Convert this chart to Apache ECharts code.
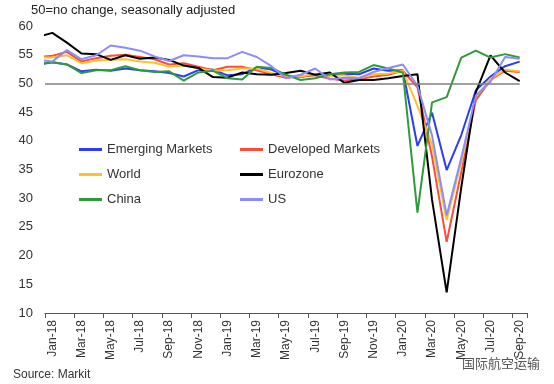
<!DOCTYPE html>
<html>
<head>
<meta charset="utf-8">
<script src="https://cdn.jsdelivr.net/npm/echarts@6/dist/echarts.min.js"></script>
<style>
html,body{margin:0;padding:0;background:#fff;}
#c{width:554px;height:384px;}
</style>
</head>
<body>
<div id="c"></div>
<script>
// Months plotted (Dec-17 is only partly visible at the left edge)
const months = ['Dec-17','Jan-18','Feb-18','Mar-18','Apr-18','May-18','Jun-18','Jul-18','Aug-18','Sep-18','Oct-18','Nov-18','Dec-18',
  'Jan-19','Feb-19','Mar-19','Apr-19','May-19','Jun-19','Jul-19','Aug-19','Sep-19','Oct-19','Nov-19','Dec-19',
  'Jan-20','Feb-20','Mar-20','Apr-20','May-20','Jun-20','Jul-20','Aug-20','Sep-20'];
// Axis categories (tick labels)
const axisCategories = months.slice(1);

const emergingMarkets = [53.2,53.7,53.3,52.1,52.4,52.2,52.6,52.3,52.1,51.8,51.2,52.3,52.4,51.4,51.6,52.8,52.4,51.3,51.1,51.6,51.5,51.7,51.6,52.6,52.2,52.3,39.1,44.9,34.9,41.0,48.8,51.2,53.0,53.8];
const developedMarkets = [54.6,54.8,55.5,53.8,54.4,54.8,55.0,54.6,54.2,53.3,53.5,52.9,52.3,52.9,52.9,52.3,51.6,51.0,51.2,51.4,50.8,50.5,50.7,51.2,51.5,52.2,49.3,37.2,22.4,34.5,47.1,50.6,52.2,52.0];
const world = [54.5,54.5,54.9,53.5,54.0,54.1,54.2,53.8,53.6,52.9,53.1,52.6,52.2,52.3,52.6,52.6,51.8,51.2,51.2,51.7,51.3,51.4,51.0,51.6,51.7,52.2,46.1,39.4,26.2,36.3,47.7,50.8,52.4,52.1];
const eurozone = [58.1,58.8,57.1,55.2,55.1,54.1,54.9,54.3,54.5,54.1,53.1,52.7,51.1,51.0,51.9,51.6,51.5,51.8,52.2,51.5,51.9,50.1,50.6,50.6,50.9,51.3,51.6,29.7,13.6,31.9,48.5,54.9,51.9,50.4];
const china = [53.4,53.7,53.3,51.8,52.3,52.3,53.0,52.3,52.0,52.1,50.5,51.9,52.2,50.9,50.7,52.9,52.7,51.5,50.6,50.9,51.6,51.9,52.0,53.2,52.6,51.9,27.5,46.7,47.6,54.5,55.7,54.5,55.1,54.5];
const us = [54.1,53.8,55.8,54.2,54.9,56.6,56.2,55.7,54.7,53.9,54.9,54.7,54.4,54.4,55.5,54.6,53.0,50.9,51.5,52.6,50.7,51.0,50.9,52.0,52.7,53.3,49.6,40.9,27.0,37.0,47.9,50.3,54.6,54.3];

const seriesNames = ['Emerging Markets','Developed Markets','World','Eurozone','China','US'];
const seriesData = [emergingMarkets, developedMarkets, world, eurozone, china, us];
const seriesColors = ['#2a3cff','#ff4b3a','#ffc12b','#000000','#2e9b3a','#8c8cff'];
const noChangeLevel = 50;
const yTicks = {min: 10, max: 60, step: 5};

const chart = echarts.init(document.getElementById('c'), null, {renderer: 'canvas'});
const FONT = 'Liberation Sans, Arial, sans-serif';

const series = seriesNames.map((name, k) => ({
  name: name,
  type: 'line',
  xAxisIndex: 1,
  symbol: 'none',
  clip: true,
  z: 3,
  lineStyle: {width: 2, color: seriesColors[k]},
  itemStyle: {color: seriesColors[k]},
  data: seriesData[k].map((v, i) => [i, v])
}));
series.unshift({
  name: 'ref',
  type: 'line',
  xAxisIndex: 1,
  data: [],
  z: 1,
  markLine: {
    silent: true,
    symbol: 'none',
    label: {show: false},
    lineStyle: {color: '#808080', width: 1.5, type: 'solid'},
    data: [[{coord: [0.5, noChangeLevel]}, {coord: [months.length - 1, noChangeLevel]}]]
  }
});

const legendCommon = {
  orient: 'vertical',
  icon: 'rect',
  itemWidth: 23,
  itemHeight: 3,
  itemGap: 0,
  padding: 0,
  textStyle: {fontSize: 13, color: '#333', fontFamily: FONT, lineHeight: 25},
  selectedMode: false
};

chart.setOption({
  animation: false,
  backgroundColor: '#fff',
  title: {
    text: '50=no change, seasonally adjusted',
    left: 31, top: 4, padding: 0,
    textStyle: {fontSize: 13, fontWeight: 'normal', color: '#222', fontFamily: FONT}
  },
  legend: [
    Object.assign({left: 79, top: 137, data: [seriesNames[0], seriesNames[2], seriesNames[4]]}, legendCommon),
    Object.assign({left: 240, top: 137, data: [seriesNames[1], seriesNames[3], seriesNames[5]]}, legendCommon)
  ],
  grid: {left: 45, right: 27, top: 26, bottom: 71, containLabel: false},
  xAxis: [
    {
      type: 'category',
      data: axisCategories,
      boundaryGap: true,
      axisLine: {lineStyle: {color: '#555', width: 1.2}},
      axisTick: {show: true, interval: 1, length: 5, lineStyle: {color: '#555'}},
      axisLabel: {interval: 1, rotate: 90, fontSize: 12, color: '#333', margin: 7, fontFamily: FONT},
      splitLine: {show: false}
    },
    {
      type: 'value',
      min: 0.5,
      max: months.length - 0.5,
      show: false,
      splitLine: {show: false}
    }
  ],
  yAxis: {
    type: 'value',
    min: yTicks.min, max: yTicks.max, interval: yTicks.step,
    axisLine: {show: false},
    axisTick: {show: false},
    splitLine: {show: false},
    axisLabel: {fontSize: 13, color: '#333', margin: 12, fontFamily: FONT}
  },
  graphic: [
    {type: 'text', left: 13, top: 369, style: {text: 'Source: Markit', fontSize: 12, fill: '#333', fontFamily: FONT}},
    {type: 'text', left: 461, top: 356, style: {text: '国际航空运输', fontSize: 13, fill: '#555', stroke: '#fff', lineWidth: 2, fontFamily: 'Noto Sans CJK SC'}}
  ],
  series: series
});
</script>
</body>
</html>
